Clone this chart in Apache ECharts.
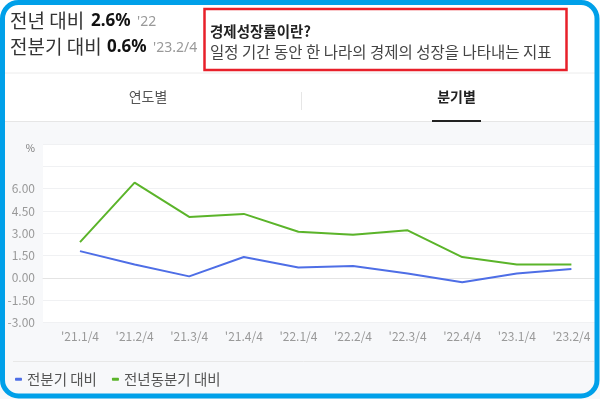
<!DOCTYPE html>
<html><head><meta charset="utf-8">
<script src="https://cdn.jsdelivr.net/npm/echarts@6/dist/echarts.min.js"></script>
<style>html,body{margin:0;padding:0;background:#fff}#c{width:600px;height:399px}</style>
</head><body><div id="c"></div>
<script>
const categories = ["'21.1/4","'21.2/4","'21.3/4","'21.4/4","'22.1/4","'22.2/4","'22.3/4","'22.4/4","'23.1/4","'23.2/4"];
const qoq = [1.8, 0.9, 0.1, 1.4, 0.7, 0.8, 0.3, -0.3, 0.3, 0.6];
const yoy = [2.4, 6.4, 4.1, 4.3, 3.1, 2.9, 3.2, 1.4, 0.9, 0.9];
const seriesNames = ['전분기 대비', '전년동분기 대비'];
const yMin = -3, yMax = 9, yStep = 1.5, yLabelMax = 6;

const F = "'Noto Sans CJK KR', 'Noto Sans', sans-serif";
const N = "'Noto Sans', 'Noto Sans CJK KR', sans-serif";
const chart = echarts.init(document.getElementById('c'), null, {renderer: 'canvas'});
const gridTop = 144, gridBottom = 76.5;
chart.setOption({
  backgroundColor: '#fff',
  animation: false,
  graphic: [
    {type: 'rect', z: -10, silent: true, shape: {x: 0, y: 122, width: 600, height: 277}, style: {fill: '#f7f8fa'}},
    {type: 'line', z: -9, shape: {x1: 4, y1: 73, x2: 596, y2: 73}, style: {stroke: '#ececec', lineWidth: 1}},
    {type: 'line', z: -9, shape: {x1: 4, y1: 121.5, x2: 596, y2: 121.5}, style: {stroke: '#e6e6e6', lineWidth: 1}},
    {type: 'line', z: -9, shape: {x1: 301.5, y1: 92, x2: 301.5, y2: 110}, style: {stroke: '#e6e6e6', lineWidth: 1}},
    {type: 'line', z: -9, shape: {x1: 13, y1: 361.5, x2: 594, y2: 361.5}, style: {stroke: '#e8e8e8', lineWidth: 1}},
    {type: 'text', style: {x: 148, y: 97, text: '연도별', font: '14px ' + F, fill: '#555', align: 'center', verticalAlign: 'middle'}},
    {type: 'text', style: {x: 456.5, y: 97, text: '분기별', font: 'bold 14px ' + F, fill: '#222', align: 'center', verticalAlign: 'middle'}},
    {type: 'rect', shape: {x: 432, y: 120, width: 49, height: 2}, style: {fill: '#222'}},
    {type: 'text', style: {x: 10, y: 21, text: '전년 대비', font: '19px ' + F, fill: '#333', verticalAlign: 'middle'}},
    {type: 'text', style: {x: 91, y: 21, text: '2.6%', font: 'bold 17px ' + N, fill: '#111', verticalAlign: 'middle'}},
    {type: 'text', style: {x: 137, y: 22, text: "'22", font: '14px ' + N, fill: '#999', verticalAlign: 'middle'}},
    {type: 'text', style: {x: 10, y: 47, text: '전분기 대비', font: '19px ' + F, fill: '#333', verticalAlign: 'middle'}},
    {type: 'text', style: {x: 107, y: 47, text: '0.6%', font: 'bold 17px ' + N, fill: '#111', verticalAlign: 'middle'}},
    {type: 'text', style: {x: 153, y: 48, text: "'23.2/4", font: '14px ' + N, fill: '#999', verticalAlign: 'middle'}},
    {type: 'rect', shape: {x: 204.5, y: 9, width: 362, height: 61}, style: {fill: 'none', stroke: '#e8202a', lineWidth: 2.5}},
    {type: 'text', style: {x: 210, y: 31, text: '경제성장률이란?', font: 'bold 14.5px ' + F, fill: '#222', verticalAlign: 'middle'}},
    {type: 'text', style: {x: 210, y: 52, text: '일정 기간 동안 한 나라의 경제의 성장을 나타내는 지표', font: '15.5px ' + F, fill: '#444', verticalAlign: 'middle'}},
    {type: 'rect', z: 100, shape: {x: 2.5, y: 2.5, width: 594.5, height: 393.5, r: 16}, style: {fill: 'none', stroke: '#00a0e9', lineWidth: 5}}
  ],
  legend: {
    left: 15, top: 372, padding: 0, itemWidth: 7, itemHeight: 3, itemGap: 15, icon: 'roundRect',
    textStyle: {fontFamily: F, fontSize: 14.5, color: '#555'},
    data: seriesNames
  },
  grid: [
    {left: 43, right: 5, top: gridTop, bottom: gridBottom, show: true, backgroundColor: '#fff', borderWidth: 0},
    {left: 52.7, right: 1.3, top: gridTop, bottom: gridBottom}
  ],
  xAxis: [
    {gridIndex: 0, type: 'category', data: categories, axisLabel: {show: false}, axisTick: {show: false},
     axisLine: {show: true, onZero: true, lineStyle: {color: '#e4e4e4', width: 1}}},
    {gridIndex: 1, type: 'category', data: categories, boundaryGap: true, axisTick: {show: false}, axisLine: {show: false},
     axisLabel: {color: '#999', fontFamily: F, fontSize: 12, margin: 8, interval: 0}}
  ],
  yAxis: [
    {gridIndex: 0, type: 'value', min: yMin, max: yMax, interval: yStep,
     axisLine: {show: false}, axisTick: {show: false},
     splitLine: {lineStyle: {color: '#f0f1f3', width: 1}},
     axisLabel: {color: '#999', fontFamily: F, fontSize: 12, margin: 8,
       formatter: v => v >= yMax ? '{p|%}' : (v > yLabelMax ? '' : v.toFixed(2)),
       rich: {p: {fontSize: 10, color: '#777', padding: [8, 0, 0, 0]}}}},
    {gridIndex: 1, type: 'value', min: yMin, max: yMax, interval: yStep, show: false, splitLine: {show: false}}
  ],
  series: [
    {name: seriesNames[0], type: 'line', xAxisIndex: 1, yAxisIndex: 1, data: qoq, symbol: 'none',
     itemStyle: {color: '#4e6ee6'}, lineStyle: {color: '#4e6ee6', width: 2}},
    {name: seriesNames[1], type: 'line', xAxisIndex: 1, yAxisIndex: 1, data: yoy, symbol: 'none',
     itemStyle: {color: '#5bb42a'}, lineStyle: {color: '#5bb42a', width: 2}}
  ]
});
</script></body></html>
